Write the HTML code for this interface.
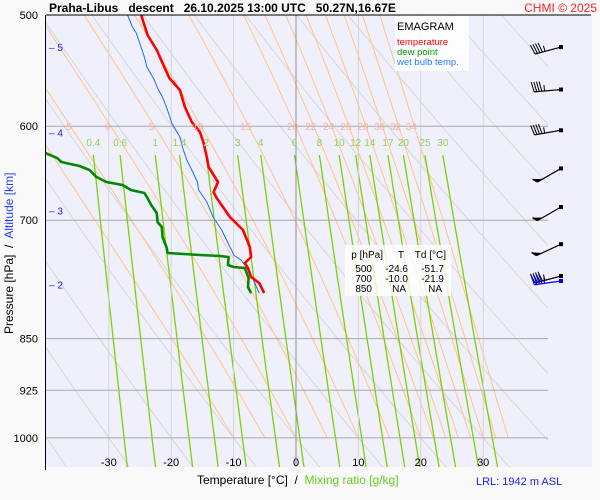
<!DOCTYPE html>
<html><head><meta charset="utf-8"><style>
html,body{margin:0;padding:0;background:#f9f9f9;}
svg{display:block;font-family:"Liberation Sans",sans-serif;}
</style></head><body>
<svg id="chart" width="600" height="500" viewBox="0 0 600 500" xmlns="http://www.w3.org/2000/svg">
<defs><clipPath id="pc"><rect x="46" y="15" width="502" height="452"/></clipPath></defs>
<rect x="0" y="0" width="600" height="500" fill="#f9f9f9"/>
<rect x="46" y="15" width="546" height="452" fill="#f0f0fc"/>
<g id="guides" clip-path="url(#pc)"></g>
<g id="grid"></g>
<g id="series" clip-path="url(#pc)"></g>
<g id="labels"></g>
<rect x="395" y="16" width="74" height="55" fill="#ffffff" opacity="0.85"/>
<text x="397" y="30" font-size="11" fill="#000">EMAGRAM</text>
<text x="397" y="45" font-size="9.5" fill="#ff0000">temperature</text>
<text x="397" y="55" font-size="9.5" fill="#00a000">dew point</text>
<text x="397" y="65" font-size="9.5" fill="#2080ff">wet bulb temp.</text>
<rect x="345" y="245" width="106" height="51" fill="#ffffff" opacity="0.8"/>
<g font-size="10" fill="#000" text-anchor="end">
<text x="383" y="258">p [hPa]</text><text x="404" y="258">T</text><text x="446" y="258">Td [°C]</text>
<text x="372" y="272">500</text><text x="408" y="272">-24.6</text><text x="444" y="272">-51.7</text>
<text x="372" y="282">700</text><text x="408" y="282">-10.0</text><text x="444" y="282">-21.9</text>
<text x="372" y="292">850</text><text x="406" y="292">NA</text><text x="442" y="292">NA</text>
</g>
<line x1="46" y1="15" x2="591" y2="15" stroke="#000" stroke-width="1"/>
<line x1="45.5" y1="15" x2="45.5" y2="470" stroke="#000" stroke-width="1"/>
<text x="49" y="12" font-size="12" font-weight="bold" fill="#000" xml:space="preserve">Praha-Libus   descent   26.10.2025 13:00 UTC   50.27N,16.67E</text>
<text x="597" y="12" font-size="12" fill="#ff2020" text-anchor="end">CHMI © 2025</text>
<text transform="translate(13,334) rotate(-90)" font-size="12" fill="#000" xml:space="preserve">Pressure [hPa]  /  <tspan fill="#2040ff">Altitude [km]</tspan></text>
<text x="197" y="484" font-size="12" fill="#000" xml:space="preserve">Temperature [°C]  /  <tspan fill="#66cc22">Mixing ratio [g/kg]</tspan></text>
<text x="476" y="485" font-size="11" fill="#2020ff">LRL: 1942 m ASL</text>
<g id="winds"></g>
</svg>
<script>
// Temperature profile
const tempP = [500,516.7,529.5,544.5,554.4,565.4,581.4,595.9,605.7,616.7,631.0,641.5,657.5,668.4,675.0,696.3,711.3,731.4,743.5,750.9,757.1,768.3,775.9,788.8];
const tempT = [-24.8,-23.8,-22.3,-21.1,-20.3,-18.6,-17.8,-16.7,-15.4,-14.8,-14.3,-14.0,-12.5,-13.2,-12.7,-10.6,-8.5,-7.4,-7.2,-8.2,-7.7,-7.2,-5.9,-5.1];
// Dew point profile
const dewP = [620,626.9,632.0,636.2,640.4,644.6,652.0,657.5,660.7,666.2,669.4,675.0,682.7,691.8,702.0,707.8,719.5,732.6,738.6,741.0,742.3,743.5,753.3,755.8,757.1,769.6,781.1,788.8];
const dewT = [-42,-40.2,-38.3,-37.6,-34.7,-33.1,-32.0,-30.4,-27.8,-26.4,-24.3,-23.8,-23.2,-22.3,-22.2,-21.5,-21.4,-20.7,-20.6,-15.4,-12.2,-10.8,-10.9,-10.0,-8.2,-7.6,-7.7,-7.2];
// Wet bulb profile
const wbP = [500,509.9,515.0,535.7,544.5,556.2,563.6,571.9,584.4,596.8,610.7,620.8,634.2,644.6,657.5,666.2,679.4,696.3,711.3,731.4,735.0,741.0,747.2,753.3,765.8,775.9,788.8];
const wbT = [-27.0,-26.2,-25.6,-24.3,-23.9,-22.7,-22.2,-21.4,-20.6,-19.9,-18.6,-18.2,-17.5,-16.7,-15.8,-15.6,-14.3,-13.3,-11.9,-10.6,-10.3,-10.0,-8.8,-8.2,-7.2,-6.6,-5.9];
// Axes ticks
const pTicks = [500,600,700,850,925,1000];
const tTicks = [-30,-20,-10,0,10,20,30];
const altKm = [5,4,3,2];
const altP = [527,606,689,778];
const mixRatios = [0.4,0.6,1,1.4,2,3,4,6,8,10,12,14,17,20,25,30];
const thetaW = [-10,-5,0,5,10,15,20,22,24,26,28,30,32,34];
const thetaW_labels = [-5,0,5,10,15,20,22,24,26,28,30,32,34];
const thetaDry = [-60,-50,-40,-30,-20,-10,0,10,20,30,40,50,60,70,80,90,100];
// Winds
const windP = [527,565,604,643,685,728,767];
const windDir = [255,265,260,240,240,245,255];
const windSpd = [45,45,45,50,50,50,45];

const NS='http://www.w3.org/2000/svg';
function X(t){return 296+6.24*t;}
function Y(p){return 15+610*Math.log(p/500);}
function mk(tag,attrs,parent){const e=document.createElementNS(NS,tag);for(const k in attrs)e.setAttribute(k,attrs[k]);parent.appendChild(e);return e;}
const guides=document.getElementById('guides'),grid=document.getElementById('grid'),series=document.getElementById('series'),labels=document.getElementById('labels'),winds=document.getElementById('winds');
function pathFrom(pts){return pts.map((q,i)=>(i?'L':'M')+q[0].toFixed(1)+' '+q[1].toFixed(1)).join(' ');}

tTicks.forEach(t=>{
  const l=mk('line',{x1:X(t),y1:15,x2:X(t),y2:467,stroke:t===0?'#909090':'#d4d4d4','stroke-width':1},grid);
  
  
  const tx=mk('text',{x:X(t),y:466,'font-size':11,'text-anchor':'middle',fill:'#000'},labels);
  tx.textContent=t;
  
  
});
pTicks.forEach(p=>{
  if(p!==500){const l=mk('line',{x1:46,y1:Y(p),x2:548,y2:Y(p),stroke:'#a8a8a8','stroke-width':1},grid);
  
  }
  const tx=mk('text',{x:38,y:Y(p)+4,'font-size':11,'text-anchor':'end',fill:'#000'},labels);
  tx.textContent=p;
  
  
});
altKm.forEach((k,i)=>{
  const tx=mk('text',{x:49,y:Y(altP[i])+4,'font-size':10,fill:'#2020ff'},labels);
  tx.textContent='– '+k;
  
  
});
thetaDry.forEach(th=>{
  const pts=[];for(let p=480;p<=1080;p+=10){pts.push([X((th+273.15)*Math.pow(p/1000,0.286)-273.15),Y(p)]);}
  const e=mk('path',{d:pathFrom(pts),fill:'none',stroke:'#d6d6d6','stroke-width':1},guides);
  
  
});
function es(tc){return 6.112*Math.exp(17.67*tc/(tc+243.5));}
function moist(tw){const pts=[];let T=tw+273.15,p=1000;pts.push([X(tw),Y(p)]);const res={};
  while(p>490){const tc=T-273.15;const rs=0.622*es(tc)/(p-es(tc));
    const d=(287*T+2.5e6*rs)/(p*(1004+2.5e6*2.5e6*rs*0.622/(287*T*T)));
    const dp=-2;T+=d*dp;p+=dp;pts.push([X(T-273.15),Y(p)]);if(Math.abs(p-600)<1)res.x600=X(T-273.15);}
  res.pts=pts;return res;}
thetaW.forEach(tw=>{
  const r=moist(tw);
  const e=mk('path',{d:pathFrom(r.pts),fill:'none',stroke:'#ffc488','stroke-width':1},guides);
  
  
  if(thetaW_labels.includes(tw)){
    const tx=mk('text',{x:r.x600-3,y:130,'font-size':10,'text-anchor':'middle',fill:'#f8b0a0'},labels);
    tx.textContent=tw;
    
    }
});
function tdFrom(w,p){const e=w*p/(622+w);const l=Math.log(e/6.112);return 243.12*l/(17.62-l);}
mixRatios.forEach(w=>{
  const pts=[];for(let p=629;p<=1050;p+=7){pts.push([X(tdFrom(w,p)),Y(p)]);}
  const e=mk('path',{d:pathFrom(pts),fill:'none',stroke:'#7ed000','stroke-width':1.3},guides);
  
  
  const tx=mk('text',{x:X(tdFrom(w,629)),y:146,'font-size':10,'text-anchor':'middle',fill:'#90d050'},labels);
  tx.textContent=w;
  
  
});
function drawSeries(P,T,color,w,name){
  const pts=P.map((p,i)=>[X(T[i]),Y(p)]);
  const e=mk('path',{d:pathFrom(pts),fill:'none',stroke:color,'stroke-width':w,'stroke-linejoin':'round'},series);
  
  
}
drawSeries(wbP,wbT,'#1a6cff',1,'wet-bulb-line');
drawSeries(dewP,dewT,'#008800',2.6,'dew-point-line');
drawSeries(tempP,tempT,'#ff0000',2.6,'temperature-line');
function barb(p,dir,spd,color,dy){
  const g=mk('g',{},winds);
  
  
  const x0=561,y0=Y(p)+dy,L=27,r=dir*Math.PI/180;
  const ux=Math.sin(r),uy=-Math.cos(r);const ex=x0+ux*L,ey=y0+uy*L;
  const bx=-uy,by=ux; // perpendicular (upward side)
  mk('rect',{x:x0-2,y:y0-2,width:4,height:4,fill:color},g);
  mk('line',{x1:x0,y1:y0,x2:ex,y2:ey,stroke:color,'stroke-width':1.2},g);
  let s=spd,pos=0;
  while(s>=50){const ax=ex-ux*pos,ay=ey-uy*pos;
    mk('polygon',{points:`${ax},${ay} ${ax-ux*6},${ay-uy*6} ${ax+bx*5+ux*3},${ay+by*5+uy*3}`,fill:color},g);
    mk('line',{x1:ax,y1:ay,x2:ax+bx*5+ux*3,y2:ay+by*5+uy*3,stroke:color,'stroke-width':1.5},g);
    s-=50;pos+=7;}
  while(s>=10){const ax=ex-ux*pos,ay=ey-uy*pos;
    mk('line',{x1:ax,y1:ay,x2:ax+bx*10+ux*2,y2:ay+by*10+uy*2,stroke:color,'stroke-width':1},g);s-=10;pos+=2.6;}
  if(s>=5){const ax=ex-ux*pos,ay=ey-uy*pos;
    mk('line',{x1:ax,y1:ay,x2:ax+bx*6,y2:ay+by*6,stroke:color,'stroke-width':1},g);}
}
windP.forEach((p,i)=>barb(p,windDir[i],windSpd[i],'#000',0));
barb(windP[windP.length-1],262,45,'#0000ff',5);
</script>
</body></html>
